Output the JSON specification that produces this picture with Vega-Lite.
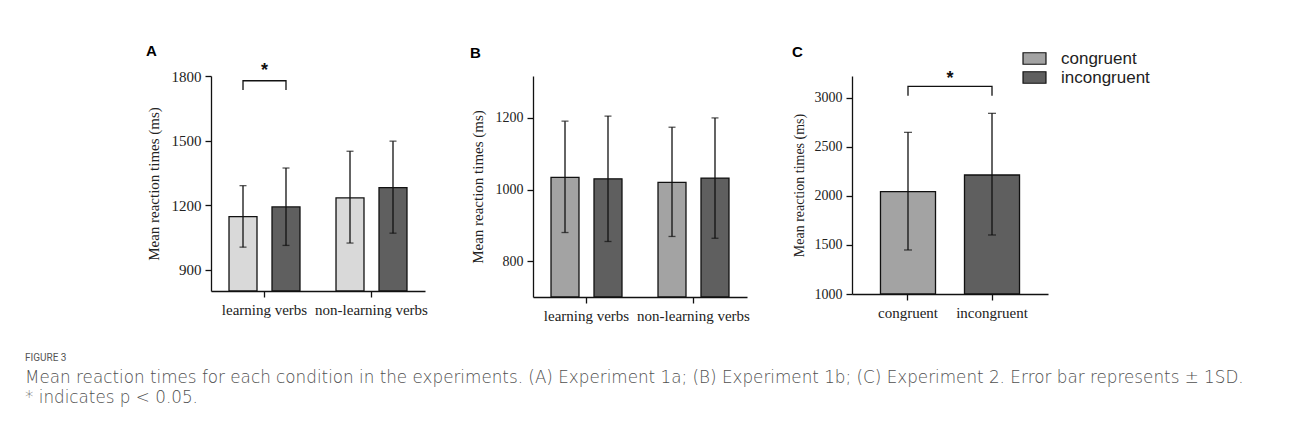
{
  "$schema": "https://vega.github.io/schema/vega-lite/v6.json",
  "padding": {"left": 25, "top": 44, "right": 5, "bottom": 5},
  "background": "white",
  "datasets": {
    "a": [
      {"group": "learning verbs", "cond": "congruent", "mean": 1146, "lo": 1004, "hi": 1290},
      {"group": "learning verbs", "cond": "incongruent", "mean": 1191, "lo": 1012, "hi": 1372},
      {"group": "non-learning verbs", "cond": "congruent", "mean": 1233, "lo": 1023, "hi": 1450},
      {"group": "non-learning verbs", "cond": "incongruent", "mean": 1281, "lo": 1069, "hi": 1497}
    ],
    "b": [
      {"group": "learning verbs", "cond": "congruent", "mean": 1034, "lo": 880, "hi": 1191},
      {"group": "learning verbs", "cond": "incongruent", "mean": 1030, "lo": 855, "hi": 1205},
      {"group": "non-learning verbs", "cond": "congruent", "mean": 1020, "lo": 869, "hi": 1174},
      {"group": "non-learning verbs", "cond": "incongruent", "mean": 1032, "lo": 864, "hi": 1200}
    ],
    "c": [
      {"cond": "congruent", "mean": 2044, "lo": 1449, "hi": 2649},
      {"cond": "incongruent", "mean": 2214, "lo": 1602, "hi": 2843}
    ],
    "sigA": [
      {"group": "learning verbs", "cond": "congruent", "v": 1735, "o": 1},
      {"group": "learning verbs", "cond": "congruent", "v": 1778, "o": 2},
      {"group": "learning verbs", "cond": "incongruent", "v": 1778, "o": 3},
      {"group": "learning verbs", "cond": "incongruent", "v": 1735, "o": 4}
    ],
    "starA": [{"group": "learning verbs", "v": 1821, "t": "*"}],
    "sigC": [
      {"cond": "congruent", "v": 3023, "o": 1},
      {"cond": "congruent", "v": 3118, "o": 2},
      {"cond": "incongruent", "v": 3118, "o": 3},
      {"cond": "incongruent", "v": 3023, "o": 4}
    ],
    "starC": [{"v": 3195, "t": "*"}]
  },
  "title": {
    "text": "FIGURE 3",
    "subtitle": [
      "Mean reaction times for each condition in the experiments. (A) Experiment 1a; (B) Experiment 1b; (C) Experiment 2. Error bar represents ± 1SD.",
      "* indicates p < 0.05."
    ],
    "orient": "bottom",
    "anchor": "start",
    "frame": "bounds",
    "dx": -121,
    "offset": 30,
    "font": "Roboto",
    "fontSize": 10,
    "fontWeight": "normal",
    "color": "#555555",
    "subtitleFont": "DejaVu Sans",
    "subtitleFontSize": 16.8,
    "subtitleFontWeight": 200,
    "subtitleColor": "#505050",
    "subtitleLineHeight": 20,
    "subtitlePadding": 7
  },
  "spacing": 42,
  "resolve": {"scale": {"color": "independent"}},
  "hconcat": [
    {
      "width": 214,
      "height": 215,
      "title": {"text": "A", "anchor": "start", "frame": "bounds", "font": "Liberation Sans", "fontSize": 15, "fontWeight": "bold", "color": "#000000", "offset": 3},
      "data": {"name": "a"},
      "layer": [
        {
          "mark": {"type": "bar", "stroke": "#111111", "strokeWidth": 1.3},
          "encoding": {
            "x": {"field": "group", "type": "nominal", "sort": null, "scale": {"paddingInner": 0, "paddingOuter": 0}, "axis": {"title": null, "labelAngle": 0}},
            "xOffset": {"field": "cond", "type": "nominal", "sort": null, "scale": {"paddingInner": 0.349, "paddingOuter": 0.419}},
            "y": {"field": "mean", "type": "quantitative", "scale": {"domain": [800, 1800], "nice": false, "zero": false}, "axis": {"values": [900, 1200, 1500, 1800], "format": "d", "title": "Mean reaction times (ms)", "titlePadding": 10}},
            "y2": {"datum": 800},
            "color": {"field": "cond", "type": "nominal", "sort": null, "scale": {"range": ["#d9d9d9", "#5f5f5f"]}, "legend": null}
          }
        },
        {
          "mark": {"type": "rule", "color": "#111111", "strokeWidth": 1.3},
          "encoding": {
            "x": {"field": "group", "type": "nominal", "sort": null},
            "xOffset": {"field": "cond", "type": "nominal", "sort": null},
            "y": {"field": "lo", "type": "quantitative"},
            "y2": {"field": "hi"}
          }
        },
        {
          "mark": {"type": "tick", "color": "#111111", "thickness": 1.3, "size": 7},
          "encoding": {
            "x": {"field": "group", "type": "nominal", "sort": null},
            "xOffset": {"field": "cond", "type": "nominal", "sort": null},
            "y": {"field": "lo", "type": "quantitative"}
          }
        },
        {
          "mark": {"type": "tick", "color": "#111111", "thickness": 1.3, "size": 7},
          "encoding": {
            "x": {"field": "group", "type": "nominal", "sort": null},
            "xOffset": {"field": "cond", "type": "nominal", "sort": null},
            "y": {"field": "hi", "type": "quantitative"}
          }
        },
        {
          "data": {"name": "sigA"},
          "mark": {"type": "line", "color": "#111111", "strokeWidth": 1.3},
          "encoding": {
            "x": {"field": "group", "type": "nominal", "sort": null},
            "xOffset": {"field": "cond", "type": "nominal", "sort": null},
            "y": {"field": "v", "type": "quantitative"},
            "order": {"field": "o", "type": "quantitative"}
          }
        },
        {
          "data": {"name": "starA"},
          "mark": {"type": "text", "font": "Liberation Sans", "fontSize": 18, "fontWeight": "bold", "color": "#111111", "baseline": "middle"},
          "encoding": {
            "x": {"field": "group", "type": "nominal", "sort": null},
            "y": {"field": "v", "type": "quantitative"},
            "text": {"field": "t"}
          }
        }
      ]
    },
    {
      "width": 214,
      "height": 221,
      "title": {"text": "B", "anchor": "start", "frame": "bounds", "font": "Liberation Sans", "fontSize": 15, "fontWeight": "bold", "color": "#000000", "offset": 15},
      "data": {"name": "b"},
      "layer": [
        {
          "mark": {"type": "bar", "stroke": "#111111", "strokeWidth": 1.3},
          "encoding": {
            "x": {"field": "group", "type": "nominal", "sort": null, "scale": {"paddingInner": 0, "paddingOuter": 0}, "axis": {"title": null, "labelAngle": 0}},
            "xOffset": {"field": "cond", "type": "nominal", "sort": null, "scale": {"paddingInner": 0.36, "paddingOuter": 0.42}},
            "y": {"field": "mean", "type": "quantitative", "scale": {"domain": [700, 1317], "nice": false, "zero": false}, "axis": {"values": [800, 1000, 1200], "format": "d", "title": "Mean reaction times (ms)", "titlePadding": 10, "labelFontSize": 14}},
            "y2": {"datum": 700},
            "color": {"field": "cond", "type": "nominal", "sort": null, "scale": {"range": ["#a3a3a3", "#5f5f5f"]}, "legend": null}
          }
        },
        {
          "mark": {"type": "rule", "color": "#111111", "strokeWidth": 1.3},
          "encoding": {
            "x": {"field": "group", "type": "nominal", "sort": null},
            "xOffset": {"field": "cond", "type": "nominal", "sort": null},
            "y": {"field": "lo", "type": "quantitative"},
            "y2": {"field": "hi"}
          }
        },
        {
          "mark": {"type": "tick", "color": "#111111", "thickness": 1.3, "size": 7},
          "encoding": {
            "x": {"field": "group", "type": "nominal", "sort": null},
            "xOffset": {"field": "cond", "type": "nominal", "sort": null},
            "y": {"field": "lo", "type": "quantitative"}
          }
        },
        {
          "mark": {"type": "tick", "color": "#111111", "thickness": 1.3, "size": 7},
          "encoding": {
            "x": {"field": "group", "type": "nominal", "sort": null},
            "xOffset": {"field": "cond", "type": "nominal", "sort": null},
            "y": {"field": "hi", "type": "quantitative"}
          }
        }
      ]
    },
    {
      "width": 196,
      "height": 218,
      "title": {"text": "C", "anchor": "start", "frame": "bounds", "font": "Liberation Sans", "fontSize": 15, "fontWeight": "bold", "color": "#000000", "offset": -10},
      "data": {"name": "c"},
      "layer": [
        {
          "mark": {"type": "bar", "stroke": "#111111", "strokeWidth": 1.3},
          "encoding": {
            "x": {"field": "cond", "type": "nominal", "sort": null, "scale": {"paddingInner": 0.345, "paddingOuter": 0.339}, "axis": {"title": null, "labelAngle": 0}},
            "y": {"field": "mean", "type": "quantitative", "scale": {"domain": [1000, 3224], "nice": false, "zero": false}, "axis": {"values": [1000, 1500, 2000, 2500, 3000], "format": "d", "title": "Mean reaction times (ms)", "titlePadding": 8, "labelFontSize": 14, "titleFontSize": 14}},
            "y2": {"datum": 1000},
            "color": {
              "field": "cond", "type": "nominal", "sort": null,
              "scale": {"range": ["#a3a3a3", "#5f5f5f"]},
              "legend": {
                "orient": "none", "legendX": 174, "legendY": -26, "title": null,
                "symbolType": "M-2,-1H2V1H-2Z", "symbolSize": 132,
                "symbolStrokeColor": "#111111", "symbolStrokeWidth": 1.2,
                "labelFont": "Liberation Sans", "labelFontSize": 17, "labelColor": "#222222",
                "labelOffset": 18, "rowPadding": 1
              }
            }
          }
        },
        {
          "mark": {"type": "rule", "color": "#111111", "strokeWidth": 1.3},
          "encoding": {
            "x": {"field": "cond", "type": "nominal", "sort": null},
            "y": {"field": "lo", "type": "quantitative"},
            "y2": {"field": "hi"}
          }
        },
        {
          "mark": {"type": "tick", "color": "#111111", "thickness": 1.3, "size": 8},
          "encoding": {
            "x": {"field": "cond", "type": "nominal", "sort": null},
            "y": {"field": "lo", "type": "quantitative"}
          }
        },
        {
          "mark": {"type": "tick", "color": "#111111", "thickness": 1.3, "size": 8},
          "encoding": {
            "x": {"field": "cond", "type": "nominal", "sort": null},
            "y": {"field": "hi", "type": "quantitative"}
          }
        },
        {
          "data": {"name": "sigC"},
          "mark": {"type": "line", "color": "#111111", "strokeWidth": 1.3},
          "encoding": {
            "x": {"field": "cond", "type": "nominal", "sort": null},
            "y": {"field": "v", "type": "quantitative"},
            "order": {"field": "o", "type": "quantitative"}
          }
        },
        {
          "data": {"name": "starC"},
          "mark": {"type": "text", "font": "Liberation Sans", "fontSize": 18, "fontWeight": "bold", "color": "#111111", "baseline": "middle"},
          "encoding": {
            "y": {"field": "v", "type": "quantitative"},
            "text": {"field": "t"}
          }
        }
      ]
    }
  ],
  "config": {
    "view": {"stroke": null},
    "axis": {
      "domainColor": "#111111", "domainWidth": 1.3,
      "tickColor": "#111111", "tickWidth": 1.3, "tickSize": 6,
      "labelFont": "Liberation Serif", "labelColor": "#222222", "labelFontSize": 15, "labelPadding": 4,
      "titleFont": "Liberation Serif", "titleFontWeight": "normal", "titleColor": "#222222", "titleFontSize": 15,
      "grid": false
    },
    "axisX": {"labelAngle": 0, "labelPadding": 5, "labelFontSize": 15}
  }
}
